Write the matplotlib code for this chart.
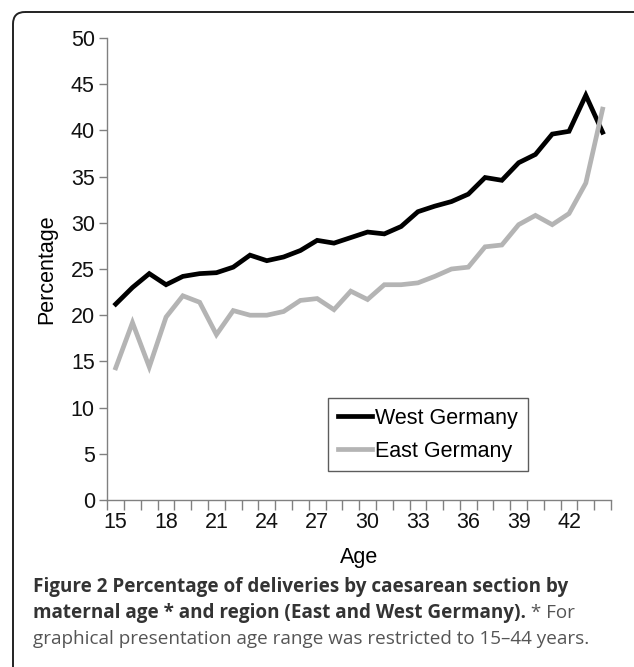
import numpy as np
import matplotlib
matplotlib.use("Agg")
import matplotlib.pyplot as plt
from matplotlib.patches import FancyBboxPatch

# data
ages = list(range(15, 45))
west = [21.2, 23.0, 24.5, 23.3, 24.2, 24.5, 24.6, 25.2, 26.5, 25.9,
        26.3, 27.0, 28.1, 27.8, 28.4, 29.0, 28.8, 29.6, 31.2, 31.8,
        32.3, 33.1, 34.9, 34.6, 36.5, 37.4, 39.6, 39.9, 43.8, 39.8]
east = [14.3, 19.2, 14.4, 19.8, 22.1, 21.4, 17.9, 20.5, 20.0, 20.0,
        20.4, 21.6, 21.8, 20.6, 22.6, 21.7, 23.3, 23.3, 23.5, 24.2,
        25.0, 25.2, 27.4, 27.6, 29.8, 30.8, 29.8, 31.0, 34.3, 42.3]
xtick_ages = list(range(15, 43, 3))
yticks = list(range(0, 51, 5))

W, H = 634, 667
fig = plt.figure(figsize=(W / 100, H / 100), dpi=100)

# background axes in pixel units, for the rounded frame
bg = fig.add_axes([0, 0, 1, 1], zorder=-1)
bg.set_xlim(0, W)
bg.set_ylim(H, 0)
bg.axis("off")
bg.add_patch(FancyBboxPatch((13, 12), 640, 700, boxstyle="round,pad=0,rounding_size=12",
                            fill=False, edgecolor="#222222", linewidth=1.4))

x0, x1 = 107.3, 611.0
y0, y1 = 500.0, 38.0
ax = fig.add_axes([x0 / W, 1 - y0 / H, (x1 - x0) / W, (y0 - y1) / H])
ax.patch.set_alpha(0)

ax.plot(ages, west, color="black", lw=3.4, label="West Germany", solid_joinstyle="miter")
ax.plot(ages, east, color="#b4b4b4", lw=3.4, label="East Germany", solid_joinstyle="miter")

ax.set_xlim(14.5, 44.5)
ax.set_ylim(0, 50)
ax.set_yticks(yticks)
ax.set_xticks(xtick_ages)
ax.set_xticks(np.arange(14.5, 45, 1), minor=True)

tick_font = dict(family="Liberation Sans", size=15.5)
ax.set_yticklabels([str(v) for v in yticks], **tick_font)
ax.set_xticklabels([str(v) for v in xtick_ages], **tick_font)
ax.tick_params(axis="x", which="major", length=0, pad=9, colors="#111111")
ax.tick_params(axis="x", which="minor", length=7, width=1, color="#808080")
ax.tick_params(axis="y", length=6, width=1, color="#808080", pad=3, labelcolor="#111111")

for s in ["top", "right"]:
    ax.spines[s].set_visible(False)
for s in ["left", "bottom"]:
    ax.spines[s].set_color("#808080")
    ax.spines[s].set_linewidth(1)

ax.set_xlabel("Age", family="Liberation Sans", size=15.5, labelpad=10)
ax.set_ylabel("Percentage", family="Liberation Sans", size=15.5, labelpad=10)

leg = ax.legend(loc="upper left", bbox_to_anchor=((328 - x0) / (x1 - x0), (y0 - 398) / (y0 - y1)),
                prop=dict(family="Liberation Sans", size=15.5), frameon=True, fancybox=False,
                handlelength=1.6, handletextpad=0.15, borderpad=0.45, labelspacing=0.55,
                borderaxespad=0)
leg.get_frame().set_edgecolor("#333333")
leg.get_frame().set_linewidth(1)

# caption with bold and regular parts
cap = dict(family="Open Sans", size=13.6)
fx = 33 / W
fig.text(fx, 1 - 592 / H, "Figure 2 Percentage of deliveries by caesarean section by",
         weight="bold", color="#333333", **cap)
t2 = fig.text(fx, 1 - 618 / H, "maternal age * and region (East and West Germany).",
              weight="bold", color="#333333", **cap)
fig.canvas.draw()
bb = t2.get_window_extent(fig.canvas.get_renderer())
fig.text(bb.x1 / W, 1 - 618 / H, " * For", color="#555555", **cap)
fig.text(fx, 1 - 644 / H, "graphical presentation age range was restricted to 15\u201344 years.",
         color="#555555", **cap)

fig.savefig("out.png", dpi=100)
